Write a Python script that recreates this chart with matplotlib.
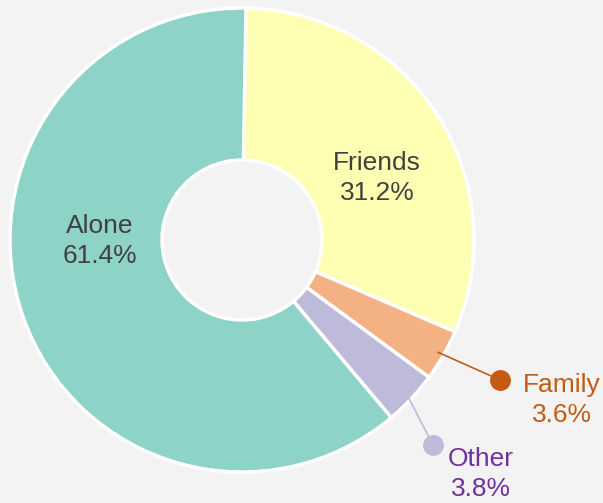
import numpy as np
import matplotlib.pyplot as plt

plt.rcParams['font.family'] = ['Liberation Sans', 'DejaVu Sans']

labels = ['Friends', 'Family', 'Other', 'Alone']
shares = [31.2, 3.6, 3.8, 61.4]
colors = ['#ffffb3', '#f4b183', '#bebada', '#8dd3c7']

W, H = 603, 503
fig = plt.figure(figsize=(W / 100, H / 100), dpi=100, facecolor='#f3f3f3')
ax = fig.add_axes([0, 0, 1, 1])
ax.set_facecolor('#f3f3f3')

cx, cy = 242, H - 240
R, r_in = 232, 80
start = 89

wedges, _ = ax.pie(shares, colors=colors, startangle=start, counterclock=False,
                   radius=R, center=(cx, cy), frame=True,
                   wedgeprops=dict(width=R - r_in, edgecolor='white', linewidth=2.5))
ax.set_xlim(0, W)
ax.set_ylim(0, H)
ax.set_aspect('equal')
ax.axis('off')

# inside labels
fs = 19
ls = 1.32
ax.text(100, H - 241, 'Alone\n61.4%', ha='center', va='center', fontsize=fs,
        color='#404040', linespacing=ls)
ax.text(377, H - 178, 'Friends\n31.2%', ha='center', va='center', fontsize=fs,
        color='#404040', linespacing=ls)

# outside labels with leader lines
mids = {}
acc = 0
for lab, s in zip(labels, shares):
    mids[lab] = start - (acc + s / 2) * 3.6
    acc += s

callouts = [
    ('Family', '3.6%', '#c55a11', '#c55a11', (500, H - 380), (562, H - 400)),
    ('Other', '3.8%', '#bebada', '#7030a0', (433, H - 445), (481, H - 474)),
]
for lab, pct, lc, tc, dot, txt in callouts:
    a = np.deg2rad(mids[lab])
    p = (cx + (R - 6) * np.cos(a), cy + (R - 6) * np.sin(a))
    ax.plot([p[0], dot[0]], [p[1], dot[1]], color=lc, lw=1.2)
    ax.plot(dot[0], dot[1], 'o', color=lc, ms=14)
    ax.text(txt[0], txt[1], lab + '\n' + pct, ha='center', va='center',
            fontsize=fs, color=tc, linespacing=ls)

fig.savefig('out.png', dpi=100, facecolor=fig.get_facecolor())
